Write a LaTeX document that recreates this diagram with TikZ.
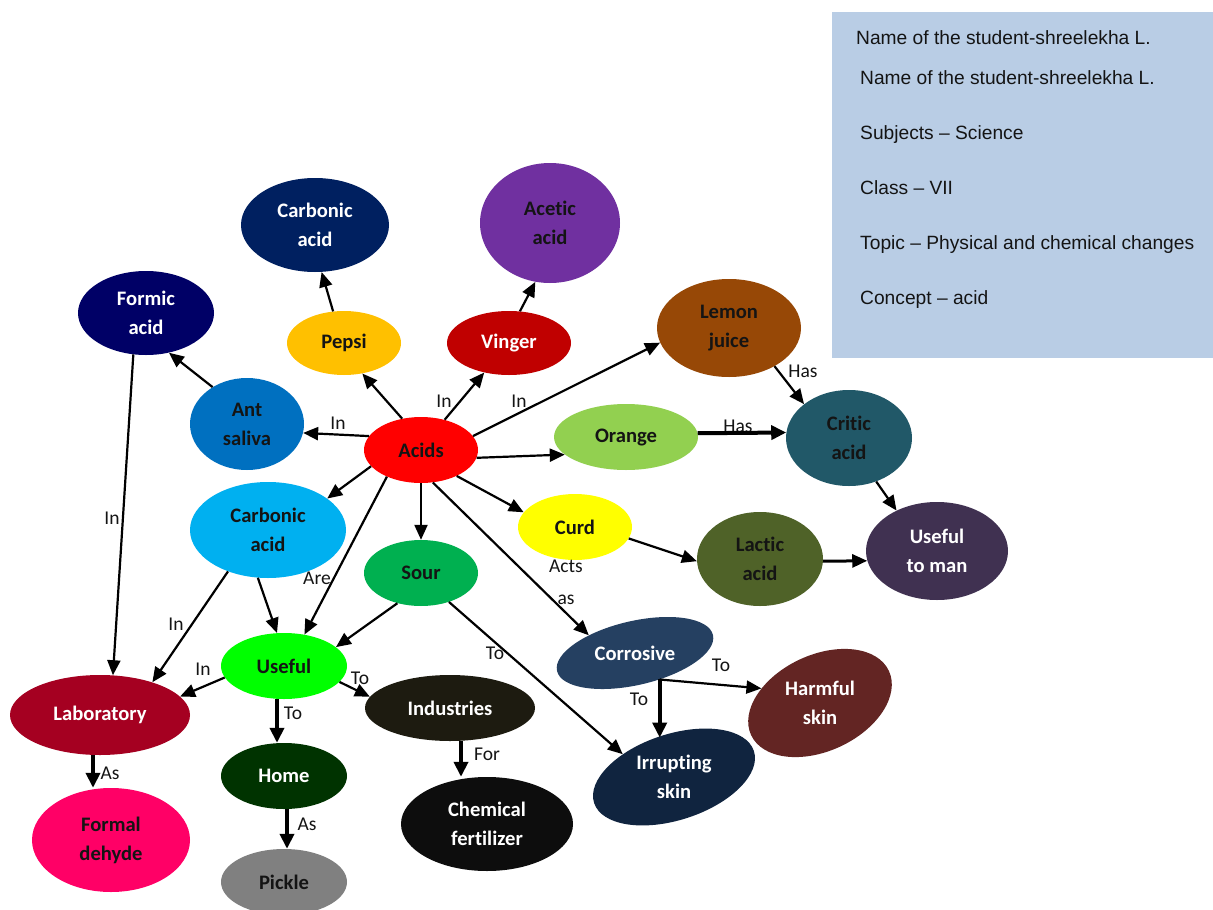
\documentclass[tikz,border=0pt]{standalone}
\usepackage{fontspec}
\setmainfont{Carlito}[Ligatures=CommonOff]
\newfontfamily\infofont{Liberation Sans}
\usetikzlibrary{shapes.geometric,arrows.meta}

\definecolor{ink}{HTML}{141414}
\definecolor{infobg}{HTML}{B9CDE5}
\definecolor{cCarbTop}{HTML}{002060}
\definecolor{cAcetic}{HTML}{7030A0}
\definecolor{cFormic}{HTML}{000066}
\definecolor{cPepsi}{HTML}{FFC000}
\definecolor{cVinger}{HTML}{C00000}
\definecolor{cLemon}{HTML}{974806}
\definecolor{cAnt}{HTML}{0070C0}
\definecolor{cAcids}{HTML}{FF0000}
\definecolor{cOrange}{HTML}{92D050}
\definecolor{cCritic}{HTML}{215868}
\definecolor{cCarbLight}{HTML}{00B0F0}
\definecolor{cCurd}{HTML}{FFFF00}
\definecolor{cLactic}{HTML}{4F6228}
\definecolor{cMan}{HTML}{403151}
\definecolor{cSour}{HTML}{00B050}
\definecolor{cUseful}{HTML}{00FF00}
\definecolor{cCorr}{HTML}{254061}
\definecolor{cHarm}{HTML}{632523}
\definecolor{cLab}{HTML}{A50021}
\definecolor{cInd}{HTML}{1D1B10}
\definecolor{cHome}{HTML}{003300}
\definecolor{cIrr}{HTML}{10243F}
\definecolor{cFormal}{HTML}{FF0066}
\definecolor{cChem}{HTML}{0D0D0D}
\definecolor{cPickle}{HTML}{808080}

\tikzset{
  bub/.style={ellipse, inner sep=0pt, align=center, text=ink,
    font=\bfseries\fontsize{20.6}{29}\selectfont},
  sz/.style 2 args={minimum width=#1pt, minimum height=#2pt},
  btxt/.style={inner sep=0pt, align=center,
    font=\bfseries\fontsize{20.6}{29}\selectfont},
  lbl/.style={inner sep=0pt, align=center, text=ink,
    font=\fontsize{19.5}{32}\selectfont},
  info/.style={inner sep=0pt, anchor=base west, text=ink,
    font=\infofont\fontsize{19.2}{22}\selectfont},
  arr/.style={-{Triangle[length=15pt,width=13pt]}, line width=2.2pt, draw=black},
  arrthick/.style={-{Triangle[length=15pt,width=14pt]}, line width=4pt, draw=black},
}

\begin{document}
\begin{tikzpicture}[x=1pt,y=-1pt]
\useasboundingbox (0,0) rectangle (1213,910);
\fill[white] (0,0) rectangle (1213,910);

% information panel
\fill[infobg] (832,12) rectangle (1213,358);
\node[info] (i1) at (856,44) {Name of the student-shreelekha L.};
\node[info] (i2) at (860,84) {Name of the student-shreelekha L.};
\node[info] (i3) at (860,139) {Subjects – Science};
\node[info] (i4) at (860,194) {Class – VII};
\node[info] (i5) at (860,249) {Topic – Physical and chemical changes};
\node[info] (i6) at (860,304) {Concept – acid};

% concept bubbles
\node[bub, sz={148}{94}, fill=cCarbTop, text=white] (carbtop) at (315,225) {Carbonic\\acid};
\node[bub, sz={140}{120}, fill=cAcetic] (acetic) at (550,223) {Acetic\\acid};
\node[bub, sz={136}{84}, fill=cFormic, text=white] (formic) at (146,313) {Formic\\acid};
\node[bub, sz={114}{64}, fill=cPepsi] (pepsi) at (344,343) {Pepsi};
\node[bub, sz={124}{64}, fill=cVinger, text=white] (vinger) at (509,343) {Vinger};
\node[bub, sz={144}{98}, fill=cLemon] (lemon) at (729,328) {Lemon\\juice};
\node[bub, sz={114}{92}, fill=cAnt] (ant) at (247,424) {Ant\\saliva};
\node[bub, sz={114}{66}, fill=cAcids] (acids) at (421,450) {Acids};
\node[bub, sz={144}{66}, fill=cOrange] (orange) at (626,437) {Orange};
\node[bub, sz={126}{96}, fill=cCritic] (critic) at (849,438) {Critic\\acid};
\node[bub, sz={156}{96}, fill=cCarbLight] (carblight) at (268,530) {Carbonic\\acid};
\node[bub, sz={114}{66}, fill=cCurd] (curd) at (575,527) {Curd};
\node[bub, sz={126}{94}, fill=cLactic] (lactic) at (760,559) {Lactic\\acid};
\node[bub, sz={142}{98}, fill=cMan, text=white] (man) at (937,551) {Useful\\to man};
\node[bub, sz={114}{66}, fill=cSour] (sour) at (421,573) {Sour};
\node[bub, sz={126}{66}, fill=cUseful] (useful) at (284,666) {Useful};
\node[bub, sz={160}{64}, fill=cCorr, rotate=13] (corrosive) at (635,653) {};
\node[btxt, text=white] (corrosivetxt) at (corrosive.center) {Corrosive};
\node[bub, sz={152}{96}, fill=cHarm, rotate=25] (harmful) at (820,703) {};
\node[btxt, text=white] (harmfultxt) at (harmful.center) {Harmful\\skin};
\node[bub, sz={180}{80}, fill=cLab, text=white] (lab) at (100,715) {Laboratory};
\node[bub, sz={170}{66}, fill=cInd, text=white] (industries) at (450,708) {Industries};
\node[bub, sz={126}{66}, fill=cHome, text=white] (home) at (284,776) {Home};
\node[bub, sz={168}{86}, fill=cIrr, rotate=18] (irrupting) at (674,777) {};
\node[btxt, text=white] (irruptingtxt) at (irrupting.center) {Irrupting\\skin};
\node[bub, sz={158}{104}, fill=cFormal] (formal) at (111,840) {Formal\\dehyde};
\node[bub, sz={172}{94}, fill=cChem, text=white] (chem) at (487,824) {Chemical\\fertilizer};
\node[bub, sz={126}{66}, fill=cPickle] (pickle) at (284,882) {Pickle};

% connector labels
\node[lbl] (lInVin) at (444,401) {In};
\node[lbl] (lInLem) at (519,401) {In};
\node[lbl] (lInAnt) at (338,423) {In};
\node[lbl] (lInFor) at (112,518) {In};
\node[lbl] (lHasOr) at (738,426) {Has};
\node[lbl] (lHasLe) at (803,371) {Has};
\node[lbl] (lActs) at (566,582) {Acts\\as};
\node[lbl] (lAre) at (317,578) {Are};
\node[lbl] (lInCar) at (176,624) {In};
\node[lbl] (lToSour) at (495,653) {To};
\node[lbl] (lInUse) at (203,669) {In};
\node[lbl] (lToHome) at (293,713) {To};
\node[lbl] (lToInd) at (360,678) {To};
\node[lbl] (lAsLab) at (110,773) {As};
\node[lbl] (lAsHome) at (307,824) {As};
\node[lbl] (lFor) at (487,754) {For};
\node[lbl] (lToHarm) at (721,665) {To};
\node[lbl] (lToIrr) at (639,699) {To};

% connectors
\draw[arr] (acids.121) -- (pepsi.-59);
\draw[arr] (pepsi.109) -- (carbtop.-82);
\draw[arr] (acids.52) -- (vinger.230);
\draw[arr] (vinger.71) -- (acetic.-104);
\draw[arr] (acids.15) -- (lemon.192);
\draw[arr] (acids.165) -- (ant.-9);
\draw[arr] (ant.133) -- (formic.-60);
\draw[arr] (formic.-107) -- (lab.72);
\draw[arr] (acids.-8) -- (orange.196);
\draw[arrthick] (orange.3) -- (critic.175);
\draw[arr] (lemon.-40) -- (critic.143);
\draw[arr] (critic.-58) -- (man.135);
\draw[arr] (acids.198) -- (carblight.28);
\draw[arr] (acids.south) -- (sour.north);
\draw[arr] (acids.-36) -- (curd.164);
\draw[arr] (acids.-70) -- (corrosive.146);
\draw[arr] (acids.218) -- (useful.57);
\draw[arr] (curd.-12) -- (lactic.182);
\draw[arr, line width=3pt] (lactic.-2) -- (man.188);
\draw[arr] (carblight.-102) -- (useful.102);
\draw[arr] (carblight.226) -- (lab.32);
\draw[arr] (sour.232) -- (useful.20);
\draw[arr] (sour.-46) -- (irrupting.138);
\draw[arr] (useful.191) -- (lab.13);
\draw[arrthick] ([xshift=-7pt]useful.south) -- ([xshift=-7pt]home.north);
\draw[arr] (useful.-16) -- (industries.172);
\draw[arrthick] ([xshift=-7pt]lab.south) -- ([xshift=-18pt]formal.north);
\draw[arrthick] ([xshift=3pt]home.south) -- ([xshift=3pt]pickle.north);
\draw[arrthick] ([xshift=11pt]industries.south) -- ([xshift=-26pt]chem.north);
\coordinate (cbr) at (corrosive.-60);
\draw[arr] (cbr) -- (harmful.141);
\draw[arrthick] (cbr) -- (cbr |- irrupting.97);
\end{tikzpicture}
\end{document}
